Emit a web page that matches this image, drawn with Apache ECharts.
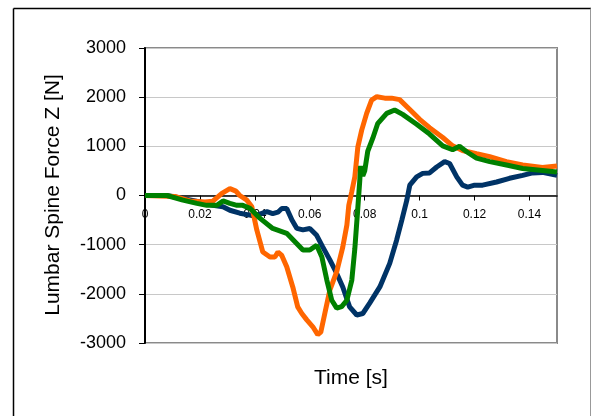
<!DOCTYPE html>
<html>
<head>
<meta charset="utf-8">
<script src="https://cdn.jsdelivr.net/npm/echarts@6/dist/echarts.min.js"></script>
<style>
html,body{margin:0;padding:0;background:#fff;}
#chart{width:592px;height:416px;}
</style>
</head>
<body>
<div id="chart"></div>
<script>
// Time tick labels / axis definitions
const xTicks = [0, 0.02, 0.04, 0.06, 0.08, 0.1, 0.12, 0.14];
const yTicks = [-3000, -2000, -1000, 0, 1000, 2000, 3000];

// Orange series
const orangeTime = [0,0.0109,0.0164,0.0218,0.0247,0.0280,0.0309,0.0331,0.0345,0.0371,0.0389,0.0407,0.0429,0.0455,0.0473,0.0484,0.0498,0.0516,0.0538,0.0556,0.0571,0.0589,0.0611,0.0629,0.0640,0.0655,0.0673,0.0698,0.0720,0.0735,0.0742,0.0753,0.0764,0.0775,0.0789,0.0807,0.0825,0.0844,0.0873,0.0898,0.0927,0.0964,0.1000,0.1036,0.1084,0.1120,0.1156,0.1207,0.1255,0.1316,0.1375,0.1447,0.15];
const orangeForce = [0,-20,-110,-130,-115,45,140,90,0,-95,-230,-700,-1150,-1250,-1250,-1150,-1220,-1450,-1860,-2265,-2400,-2530,-2670,-2830,-2780,-2390,-1925,-1550,-1050,-600,-200,80,380,990,1330,1670,1940,2010,1980,1980,1950,1750,1550,1380,1180,1010,915,850,790,690,620,570,600];

// Green series
const greenTime = [0,0.0080,0.0138,0.0189,0.0225,0.0262,0.0284,0.0309,0.0335,0.0356,0.0382,0.0418,0.0465,0.0516,0.0553,0.0575,0.0600,0.0625,0.0644,0.0662,0.0680,0.0698,0.0716,0.0735,0.0753,0.0764,0.0775,0.0782,0.0785,0.0793,0.0800,0.0811,0.0829,0.0847,0.0880,0.0909,0.0938,0.0989,0.1036,0.1084,0.1120,0.1145,0.1171,0.1207,0.1255,0.1316,0.1375,0.1447,0.15];
const greenForce = [0,0,-95,-160,-200,-200,-110,-160,-200,-200,-260,-460,-670,-770,-980,-1110,-1110,-1010,-1250,-1720,-2130,-2290,-2260,-2130,-1720,-1080,-240,310,600,400,500,900,1160,1460,1670,1740,1650,1450,1250,1010,930,1000,890,760,690,620,550,510,480];

// Navy series
const navyTime = [0,0.0080,0.0138,0.0200,0.0247,0.0284,0.0309,0.0345,0.0382,0.0418,0.0444,0.0465,0.0484,0.0498,0.0516,0.0535,0.0553,0.0575,0.0600,0.0625,0.0647,0.0673,0.0698,0.0720,0.0745,0.0771,0.0793,0.0818,0.0855,0.0891,0.0916,0.0935,0.0953,0.0964,0.0989,0.1011,0.1036,0.1062,0.1091,0.1109,0.1135,0.1156,0.1175,0.1200,0.1229,0.1280,0.1327,0.1375,0.1411,0.1447,0.15];
const navyForce = [0,0,-60,-130,-200,-230,-300,-360,-400,-380,-330,-370,-340,-265,-265,-500,-670,-700,-670,-810,-1045,-1310,-1585,-1860,-2265,-2430,-2400,-2190,-1860,-1380,-910,-500,-100,210,380,450,460,580,690,650,380,210,170,210,210,275,350,410,460,470,410];

const xTitle = 'Time [s]';
const yTitle = 'Lumbar Spine Force Z [N]';

const pairs = (t, f) => t.map((v, i) => [v, f[i]]);
const FONT = '"Liberation Sans", Arial, sans-serif';
const GRID_TOP = 48, GRID_H = 295;
// distance from grid bottom to the zero line (x axis crosses at 0)
const zeroOffset = GRID_H * (0 - yTicks[0]) / (yTicks[yTicks.length - 1] - yTicks[0]);

const chart = echarts.init(document.getElementById('chart'), null, {renderer: 'canvas'});
chart.setOption({
  animation: false,
  backgroundColor: '#fff',
  grid: {
    left: 145, top: GRID_TOP, right: 35, height: GRID_H,
    show: true, borderColor: '#8a8a8a', borderWidth: 2, backgroundColor: '#fff'
  },
  xAxis: {
    type: 'value',
    min: xTicks[0], max: 0.15, interval: 0.02,
    offset: -zeroOffset,
    axisLine: {onZero: false, lineStyle: {color: '#000', width: 1.5}},
    axisTick: {show: true, inside: false, length: 5, lineStyle: {color: '#000'}},
    axisLabel: {
      fontSize: 12, color: '#000', fontFamily: FONT, margin: 13,
      showMaxLabel: false,
      formatter: v => String(+v.toFixed(2))
    },
    splitLine: {show: false}
  },
  yAxis: {
    type: 'value',
    min: yTicks[0], max: yTicks[yTicks.length - 1], interval: 1000,
    axisLine: {show: true, lineStyle: {color: '#000', width: 2}},
    axisTick: {show: true, inside: false, length: 6, lineStyle: {color: '#000'}},
    axisLabel: {fontSize: 18, color: '#000', fontFamily: FONT, margin: 19, formatter: v => String(v)},
    splitLine: {show: true, lineStyle: {color: '#c8c8c8', width: 1}}
  },
  series: [
    {type: 'line', data: pairs(navyTime, navyForce), showSymbol: false, symbol: 'none',
     lineStyle: {color: '#003366', width: 5}, itemStyle: {color: '#003366'}, z: 2},
    {type: 'line', data: pairs(orangeTime, orangeForce), showSymbol: false, symbol: 'none',
     lineStyle: {color: '#ff6600', width: 5}, itemStyle: {color: '#ff6600'}, z: 3},
    {type: 'line', data: pairs(greenTime, greenForce), showSymbol: false, symbol: 'none',
     lineStyle: {color: '#008000', width: 5}, itemStyle: {color: '#008000'}, z: 4}
  ],
  graphic: [
    {type: 'line', shape: {x1: 13.5, y1: 8.5, x2: 591, y2: 8.5}, style: {stroke: '#000', lineWidth: 1.5}, silent: true},
    {type: 'line', shape: {x1: 13.5, y1: 8.5, x2: 13.5, y2: 416}, style: {stroke: '#000', lineWidth: 1.5}, silent: true},
    {type: 'line', shape: {x1: 590.5, y1: 8.5, x2: 590.5, y2: 416}, style: {stroke: '#999', lineWidth: 1}, silent: true},
    {type: 'text', x: 351, y: 378, style: {text: xTitle, font: '21px ' + FONT, fill: '#000', textAlign: 'center', textVerticalAlign: 'middle'}, silent: true},
    {type: 'text', x: 53, y: 195, rotation: Math.PI / 2, style: {text: yTitle, font: '21px ' + FONT, fill: '#000', textAlign: 'center', textVerticalAlign: 'middle'}, silent: true}
  ]
});
</script>
</body>
</html>
